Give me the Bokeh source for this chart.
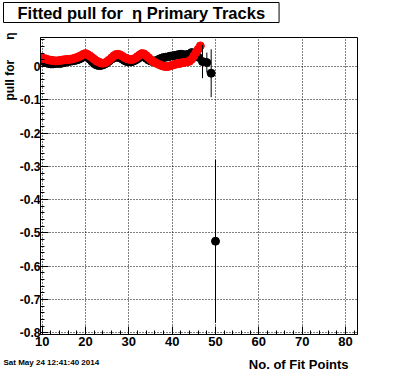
import numpy as np
from bokeh.plotting import figure
from bokeh.models import Range1d, SingleIntervalTicker, CustomJSTickFormatter, Label, Title
from bokeh.embed import file_html
from bokeh.resources import INLINE

# ---------------- data ----------------
x_black = np.arange(10.0, 46.01, 0.5)
y_black = [0.018, 0.014, 0.011, 0.009, 0.008, 0.008, 0.009, 0.010, 0.009, 0.010,
           0.012, 0.013, 0.015, 0.016, 0.017, 0.018, 0.020, 0.022, 0.025, 0.029,
           0.031, 0.028, 0.022, 0.015, 0.009, 0.005, 0.003, 0.003, 0.005, 0.008,
           0.012, 0.017, 0.022, 0.026, 0.028, 0.028, 0.026, 0.022, 0.018, 0.015,
           0.014, 0.014, 0.016, 0.019, 0.023, 0.027, 0.030, 0.029, 0.025, 0.020,
           0.017, 0.015, 0.016, 0.019, 0.022, 0.025, 0.027, 0.028, 0.029, 0.031,
           0.032, 0.033, 0.034, 0.036, 0.037, 0.036, 0.035, 0.036, 0.038, 0.042,
           0.040, 0.034, 0.028]

x_red = np.arange(10.0, 46.51, 0.5)
y_red = [0.025, 0.024, 0.022, 0.020, 0.019, 0.018, 0.017, 0.017, 0.018, 0.019,
         0.020, 0.021, 0.021, 0.022, 0.023, 0.025, 0.027, 0.030, 0.033, 0.037,
         0.039, 0.036, 0.032, 0.027, 0.022, 0.017, 0.014, 0.011, 0.010, 0.011,
         0.015, 0.020, 0.026, 0.032, 0.036, 0.037, 0.035, 0.031, 0.027, 0.024,
         0.022, 0.021, 0.022, 0.025, 0.030, 0.035, 0.039, 0.038, 0.033, 0.027,
         0.021, 0.016, 0.012, 0.009, 0.006, 0.003, 0.001, 0.000, 0.000, 0.002,
         0.004, 0.006, 0.008, 0.009, 0.010, 0.012, 0.013, 0.014, 0.016, 0.022,
         0.032, 0.042, 0.052, 0.062]

x_tail = [47, 48, 49, 50]
y_tail = [0.015, 0.012, -0.020, -0.525]
e_tail = [0.050, 0.030, 0.072, 0.245]

x_lim = (9.61, 82.77)
y_lim = (-0.8054, 0.0873)

title_text = "Fitted pull for\u00a0 \u03b7 Primary Tracks"
ytitle_text = "pull for\u00a0\u00a0\u00a0\u00a0\u00a0 \u03b7"
xtitle_text = "No. of Fit Points"
date_text = "Sat May 24 12:41:40 2014"

# ---------------- layout ----------------
W, H = 396, 372
FL, FR, FT, FB = 40, 357, 37, 334   # frame edges in canvas pixels

p = figure(width=W, height=H, output_backend="svg", toolbar_location=None,
           x_range=Range1d(*x_lim), y_range=Range1d(*y_lim),
           min_border_left=FL, min_border_right=W - FR, min_border_top=FT,
           min_border_bottom=H - FB)
p.background_fill_color = "white"
p.border_fill_color = "white"
p.outline_line_color = "black"
p.outline_line_width = 1
p.outline_line_alpha = 1

p.xaxis.ticker = SingleIntervalTicker(interval=10, num_minor_ticks=5)
p.yaxis.ticker = SingleIntervalTicker(interval=0.1, num_minor_ticks=5)
p.yaxis.formatter = CustomJSTickFormatter(
    code="const v = Math.round(tick*10)/10; return v == 0 ? '0' : v.toFixed(1);")

for ax in (p.xaxis[0], p.yaxis[0]):
    ax.axis_line_color = "black"
    ax.major_tick_line_color = "black"
    ax.minor_tick_line_color = "black"
    ax.major_tick_in = 8
    ax.major_tick_out = 0
    ax.minor_tick_in = 4
    ax.minor_tick_out = 0
    ax.major_label_text_font = "Liberation Sans"
    ax.major_label_text_font_style = "bold"
    ax.major_label_text_color = "black"
p.xaxis.major_label_text_font_size = "13px"
p.yaxis.major_label_text_font_size = "12px"
p.xaxis.major_label_standoff = 2
p.yaxis.major_label_standoff = 0

for g in (p.xgrid[0], p.ygrid[0]):
    g.grid_line_color = "black"
    g.grid_line_dash = "1 2"
    g.grid_line_width = 1

# data
p.scatter(x_black, y_black, size=8, color="black")
p.scatter(x_red, y_red, size=8, color="red")
y_lo = [y - e for y, e in zip(y_tail, e_tail)]
y_hi = [y + e for y, e in zip(y_tail, e_tail)]
p.segment(x0=x_tail, y0=y_lo, x1=x_tail, y1=y_hi, color="black", line_width=1)
p.scatter(x_tail, y_tail, size=8, color="black")

# ---------------- texts ----------------
def lab(x, y, text, size, bold=True, align="left", baseline="alphabetic", **kw):
    return Label(x=x, y=y, x_units="canvas", y_units="canvas", text=text,
                 text_font="Liberation Sans",
                 text_font_style="bold" if bold else "normal",
                 text_font_size=size, text_align=align, text_baseline=baseline,
                 text_color="black", **kw)

title_lab = lab(3, 2, title_text, "16.5px", baseline="top",
                padding=(14, 1), background_fill_color="white",
                border_line_color="black", border_line_width=1)
p.add_layout(title_lab, "above")
p.add_layout(lab(3, 362, date_text, "8px", baseline="middle"), "above")

p.add_layout(lab(348, 364, xtitle_text, "13px", align="right"), "below")

ytitle = Title(text=ytitle_text, align="right", offset=-5, standoff=0,
               text_font="Liberation Sans", text_font_style="bold",
               text_font_size="12px", text_color="black")
p.add_layout(ytitle, "left")

open("out.html", "w").write(file_html(p, INLINE))
